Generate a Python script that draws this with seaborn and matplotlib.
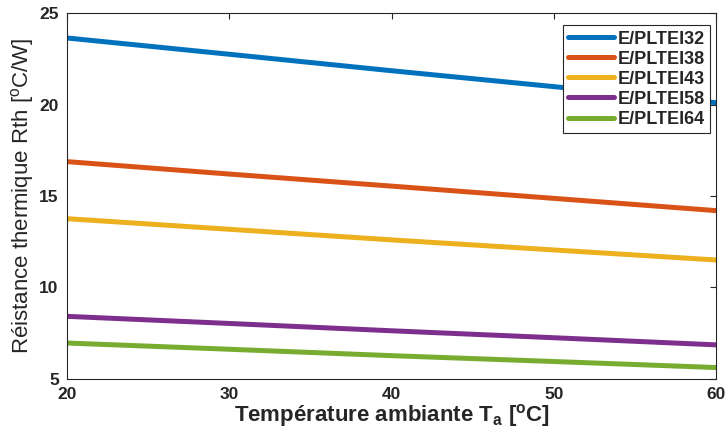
import matplotlib
matplotlib.use('Agg')
import matplotlib.pyplot as plt
import pandas as pd
import seaborn as sns

# Ambient temperature (degC)
temperature = [20, 30, 40, 50, 60]

# Thermal resistance (degC/W)
rth_ei32 = [23.64, 22.75, 21.85, 20.98, 20.10]
rth_ei38 = [16.88, 16.20, 15.54, 14.87, 14.20]
rth_ei43 = [13.76, 13.18, 12.60, 12.05, 11.50]
rth_ei58 = [8.42, 8.03, 7.63, 7.25, 6.86]
rth_ei64 = [6.96, 6.62, 6.27, 5.95, 5.62]

labels = ['E/PLTEI32', 'E/PLTEI38', 'E/PLTEI43', 'E/PLTEI58', 'E/PLTEI64']
series = [rth_ei32, rth_ei38, rth_ei43, rth_ei58, rth_ei64]
colors = ['#0072BD', '#D95319', '#EDB120', '#7E2F8E', '#77AC30']

df = pd.concat([
    pd.DataFrame({'T': temperature, 'Rth': vals, 'core': name})
    for name, vals in zip(labels, series)
])

sns.set_style('white')
plt.rcParams['font.family'] = ['Liberation Sans', 'DejaVu Sans']

fig = plt.figure(figsize=(7.26, 4.37), dpi=100)
ax = fig.add_axes([0.0923, 0.133, 0.894, 0.837])

sns.lineplot(data=df, x='T', y='Rth', hue='core', palette=colors,
             linewidth=3.6, ax=ax)

ax.set_xlim(20, 60)
ax.set_ylim(5, 25)
ax.set_xticks([20, 30, 40, 50, 60])
ax.set_yticks([5, 10, 15, 20, 25])
ax.tick_params(direction='in', top=True, right=True, length=4, width=0.8,
               labelsize=12.5, colors='#262626')
ax.tick_params(axis='x', pad=6)
ax.tick_params(axis='y', pad=6)
for lbl in ax.get_xticklabels() + ax.get_yticklabels():
    lbl.set_fontweight('bold')
for side in ax.spines.values():
    side.set_color('#262626')
    side.set_linewidth(0.8)

ax.set_xlabel('Température ambiante T$_\\mathregular{a}$ [$^\\mathregular{o}$C]',
              fontsize=16, fontweight='bold', labelpad=0)
ax.set_ylabel('Réistance thermique Rth [$^\\mathregular{o}$C/W]', fontsize=16,
              labelpad=2)

leg = ax.legend(loc='upper right', bbox_to_anchor=(0.991, 0.967),
                fontsize=13, handlelength=2.55, frameon=True, fancybox=False,
                framealpha=1, borderaxespad=0, handletextpad=0.2,
                labelspacing=0.17, borderpad=0.3)
leg.get_frame().set_edgecolor('#262626')
leg.get_frame().set_linewidth(0.8)
for t in leg.get_texts():
    t.set_fontweight('bold')
for h in leg.get_lines():
    h.set_linewidth(3.6)

fig.savefig('out.png', dpi=100)
